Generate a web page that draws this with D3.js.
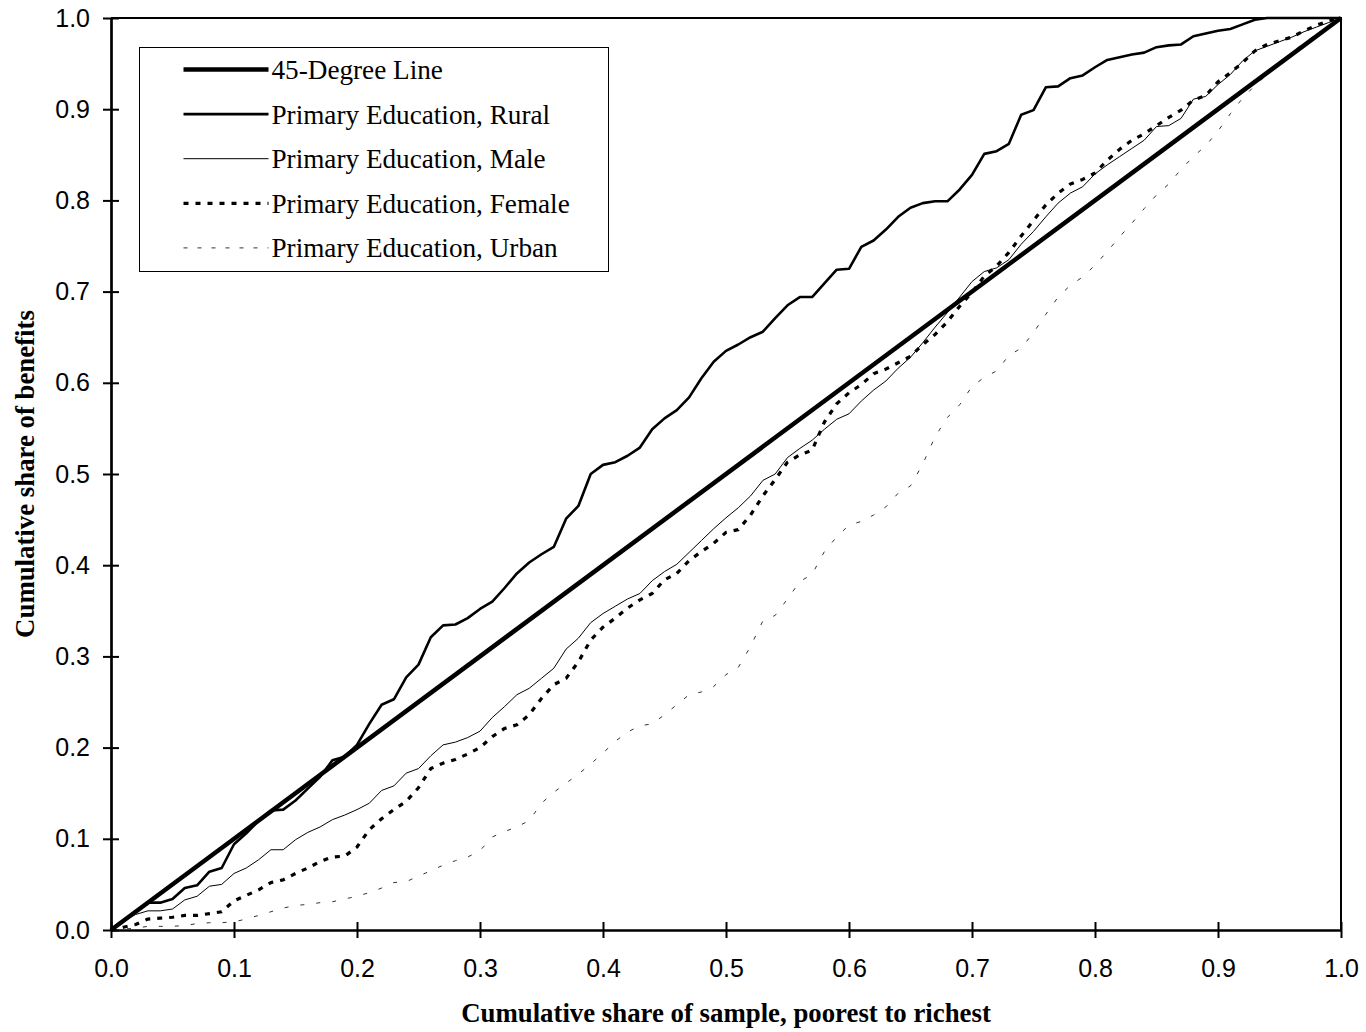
<!DOCTYPE html>
<html>
<head>
<meta charset="utf-8">
<script src="https://cdn.jsdelivr.net/npm/d3@7"></script>
<style>
  html, body { margin: 0; padding: 0; background: #fff; }
  svg { display: block; }
</style>
</head>
<body>
<svg id="chart" width="1366" height="1032"></svg>
<script>
// DATA (cumulative shares at each percentile)
const share = d3.range(0, 101).map(i => i / 100);
const diagonal = [0, 1];

const rural = [
  0, 0.010, 0.020, 0.030, 0.030, 0.034, 0.046, 0.049, 0.064, 0.068,
  0.094, 0.106, 0.120, 0.131, 0.132, 0.142, 0.155, 0.168, 0.186, 0.190,
  0.203, 0.226, 0.247, 0.253, 0.277, 0.291, 0.321, 0.334, 0.335, 0.342,
  0.352, 0.360, 0.375, 0.391, 0.403, 0.412, 0.420, 0.451, 0.465, 0.500,
  0.510, 0.513, 0.520, 0.529, 0.549, 0.561, 0.570, 0.584, 0.605, 0.623,
  0.635, 0.642, 0.650, 0.656, 0.671, 0.685, 0.694, 0.694, 0.709, 0.724,
  0.725, 0.749, 0.756, 0.768, 0.782, 0.792, 0.797, 0.799, 0.799, 0.812,
  0.828, 0.851, 0.854, 0.862, 0.894, 0.899, 0.924, 0.925, 0.934, 0.937,
  0.946, 0.954, 0.957, 0.960, 0.962, 0.968, 0.970, 0.971, 0.980, 0.983,
  0.986, 0.988, 0.993, 0.998, 1.000, 1.000, 1.000, 1.000, 1.000, 1.000,
  1.000
];

const male = [
  0, 0.010, 0.017, 0.021, 0.021, 0.023, 0.033, 0.037, 0.048, 0.050,
  0.062, 0.068, 0.077, 0.088, 0.088, 0.099, 0.107, 0.113, 0.121, 0.126,
  0.132, 0.139, 0.153, 0.158, 0.172, 0.177, 0.191, 0.203, 0.206, 0.211,
  0.218, 0.233, 0.245, 0.258, 0.265, 0.276, 0.287, 0.308, 0.320, 0.337,
  0.347, 0.355, 0.363, 0.369, 0.383, 0.393, 0.401, 0.414, 0.427, 0.440,
  0.452, 0.463, 0.476, 0.493, 0.500, 0.518, 0.528, 0.537, 0.549, 0.560,
  0.566, 0.580, 0.592, 0.602, 0.616, 0.628, 0.644, 0.661, 0.677, 0.694,
  0.711, 0.722, 0.726, 0.735, 0.752, 0.766, 0.782, 0.797, 0.808, 0.815,
  0.829, 0.839, 0.848, 0.857, 0.866, 0.881, 0.882, 0.890, 0.911, 0.914,
  0.927, 0.938, 0.953, 0.964, 0.969, 0.974, 0.979, 0.985, 0.990, 0.995,
  1.000
];

const female = [
  0, 0.003, 0.006, 0.012, 0.013, 0.014, 0.016, 0.016, 0.018, 0.020,
  0.032, 0.038, 0.044, 0.052, 0.055, 0.062, 0.068, 0.075, 0.080, 0.081,
  0.091, 0.110, 0.122, 0.132, 0.141, 0.156, 0.177, 0.183, 0.187, 0.193,
  0.200, 0.212, 0.221, 0.225, 0.236, 0.254, 0.269, 0.276, 0.294, 0.318,
  0.332, 0.342, 0.353, 0.362, 0.369, 0.384, 0.391, 0.405, 0.415, 0.424,
  0.436, 0.439, 0.455, 0.476, 0.494, 0.513, 0.521, 0.526, 0.557, 0.577,
  0.589, 0.598, 0.610, 0.615, 0.622, 0.629, 0.642, 0.653, 0.667, 0.684,
  0.699, 0.717, 0.728, 0.743, 0.761, 0.778, 0.795, 0.808, 0.818, 0.823,
  0.830, 0.844, 0.856, 0.866, 0.873, 0.882, 0.891, 0.899, 0.910, 0.915,
  0.930, 0.940, 0.951, 0.964, 0.971, 0.975, 0.979, 0.986, 0.992, 0.997,
  1.000
];

const urban = [
  0, 0.001, 0.002, 0.004, 0.004, 0.004, 0.005, 0.007, 0.008, 0.008,
  0.009, 0.012, 0.016, 0.020, 0.024, 0.027, 0.028, 0.030, 0.031, 0.034,
  0.037, 0.041, 0.046, 0.052, 0.053, 0.059, 0.065, 0.071, 0.076, 0.080,
  0.087, 0.102, 0.108, 0.113, 0.120, 0.139, 0.151, 0.161, 0.171, 0.182,
  0.194, 0.207, 0.217, 0.224, 0.226, 0.236, 0.247, 0.258, 0.261, 0.267,
  0.280, 0.288, 0.311, 0.339, 0.345, 0.363, 0.382, 0.390, 0.415, 0.431,
  0.444, 0.448, 0.455, 0.464, 0.479, 0.487, 0.511, 0.541, 0.562, 0.576,
  0.596, 0.606, 0.613, 0.630, 0.638, 0.655, 0.675, 0.694, 0.707, 0.716,
  0.729, 0.744, 0.760, 0.775, 0.791, 0.806, 0.818, 0.834, 0.848, 0.860,
  0.876, 0.895, 0.912, 0.926, 0.938, 0.951, 0.962, 0.973, 0.982, 0.991,
  1.000
];

const seriesNames = [
  '45-Degree Line',
  'Primary Education, Rural',
  'Primary Education, Male',
  'Primary Education, Female',
  'Primary Education, Urban'
];
const ticks = d3.range(0, 11).map(i => i / 10);

// STYLES
const styles = [
  { width: 4.5, color: '#000', dash: null },
  { width: 2.6, color: '#000', dash: null },
  { width: 1, color: '#000', dash: null },
  { width: 3.2, color: '#000', dash: '5,7' },
  { width: 1, color: '#333', dash: '4,12' }
];

const series = [
  { name: seriesNames[0], xs: diagonal, ys: diagonal },
  { name: seriesNames[1], xs: share, ys: rural },
  { name: seriesNames[2], xs: share, ys: male },
  { name: seriesNames[3], xs: share, ys: female },
  { name: seriesNames[4], xs: share, ys: urban }
];

const svg = d3.select('#chart');
const m = { top: 18, right: 25, bottom: 102, left: 111 };
const W = 1366, H = 1032;

const x = d3.scaleLinear().domain([0, 1]).range([m.left, W - m.right]);
const y = d3.scaleLinear().domain([0, 1]).range([H - m.bottom, m.top]);

const serif = '"Liberation Serif", "Times New Roman", serif';
const sans = '"Liberation Sans", Arial, sans-serif';

// FRAME (top and right)
svg.append('path')
  .attr('d', `M${x(0)},${y(1)}H${x(1)}V${y(0)}`)
  .attr('fill', 'none')
  .attr('stroke', '#000')
  .attr('stroke-width', 2);

// LINES
const line = d3.line().x(d => x(d[0])).y(d => y(d[1]));
const order = [4, 2, 3, 1, 0];
order.forEach(i => {
  const s = series[i];
  const st = styles[i];
  svg.append('path')
    .datum(s.xs.map((v, k) => [v, s.ys[k]]))
    .attr('fill', 'none')
    .attr('stroke', st.color)
    .attr('stroke-width', st.width)
    .attr('stroke-dasharray', st.dash)
    .attr('stroke-linejoin', 'round')
    .attr('d', line);
});

// AXES
const fmt = d3.format('.1f');
const gx = svg.append('g')
  .attr('transform', `translate(0,${y(0)})`)
  .call(d3.axisBottom(x).tickValues(ticks).tickFormat(fmt).tickSize(8).tickPadding(21).tickSizeOuter(0));
gx.selectAll('.tick line').attr('y1', -8).attr('stroke-width', 2);
gx.select('.domain').attr('stroke-width', 2.7);
gx.selectAll('text').attr('font-family', sans).attr('font-size', 25).attr('fill', '#000');

const gy = svg.append('g')
  .attr('transform', `translate(${x(0)},0)`)
  .call(d3.axisLeft(y).tickValues(ticks).tickFormat(fmt).tickSize(8).tickPadding(13).tickSizeOuter(0));
gy.selectAll('.tick line').attr('x1', 8).attr('stroke-width', 2);
gy.select('.domain').attr('stroke-width', 2.7);
gy.selectAll('text').attr('font-family', sans).attr('font-size', 25).attr('fill', '#000');

// AXIS TITLES
svg.append('text')
  .attr('x', (x(0) + x(1)) / 2)
  .attr('y', 1022)
  .attr('text-anchor', 'middle')
  .attr('font-family', serif)
  .attr('font-weight', 'bold')
  .attr('font-size', 26.8)
  .text('Cumulative share of sample, poorest to richest');

svg.append('text')
  .attr('transform', `translate(34,${(y(0) + y(1)) / 2}) rotate(-90)`)
  .attr('text-anchor', 'middle')
  .attr('font-family', serif)
  .attr('font-weight', 'bold')
  .attr('font-size', 26.8)
  .text('Cumulative share of benefits');

// LEGEND
const lg = svg.append('g').attr('transform', 'translate(139.5,47.5)');
lg.append('rect')
  .attr('width', 469)
  .attr('height', 224)
  .attr('fill', '#fff')
  .attr('stroke', '#000')
  .attr('stroke-width', 1);

series.forEach((s, i) => {
  const st = styles[i];
  const ly = 22 + i * 44.6;
  lg.append('line')
    .attr('x1', 44).attr('x2', 129)
    .attr('y1', ly).attr('y2', ly)
    .attr('stroke', st.color)
    .attr('stroke-width', st.width)
    .attr('stroke-dasharray', i === 4 ? '4,10' : st.dash);
  lg.append('text')
    .attr('x', 132)
    .attr('y', ly + 9.5)
    .attr('font-family', serif)
    .attr('font-size', 27.2)
    .text(s.name);
});
</script>
</body>
</html>
